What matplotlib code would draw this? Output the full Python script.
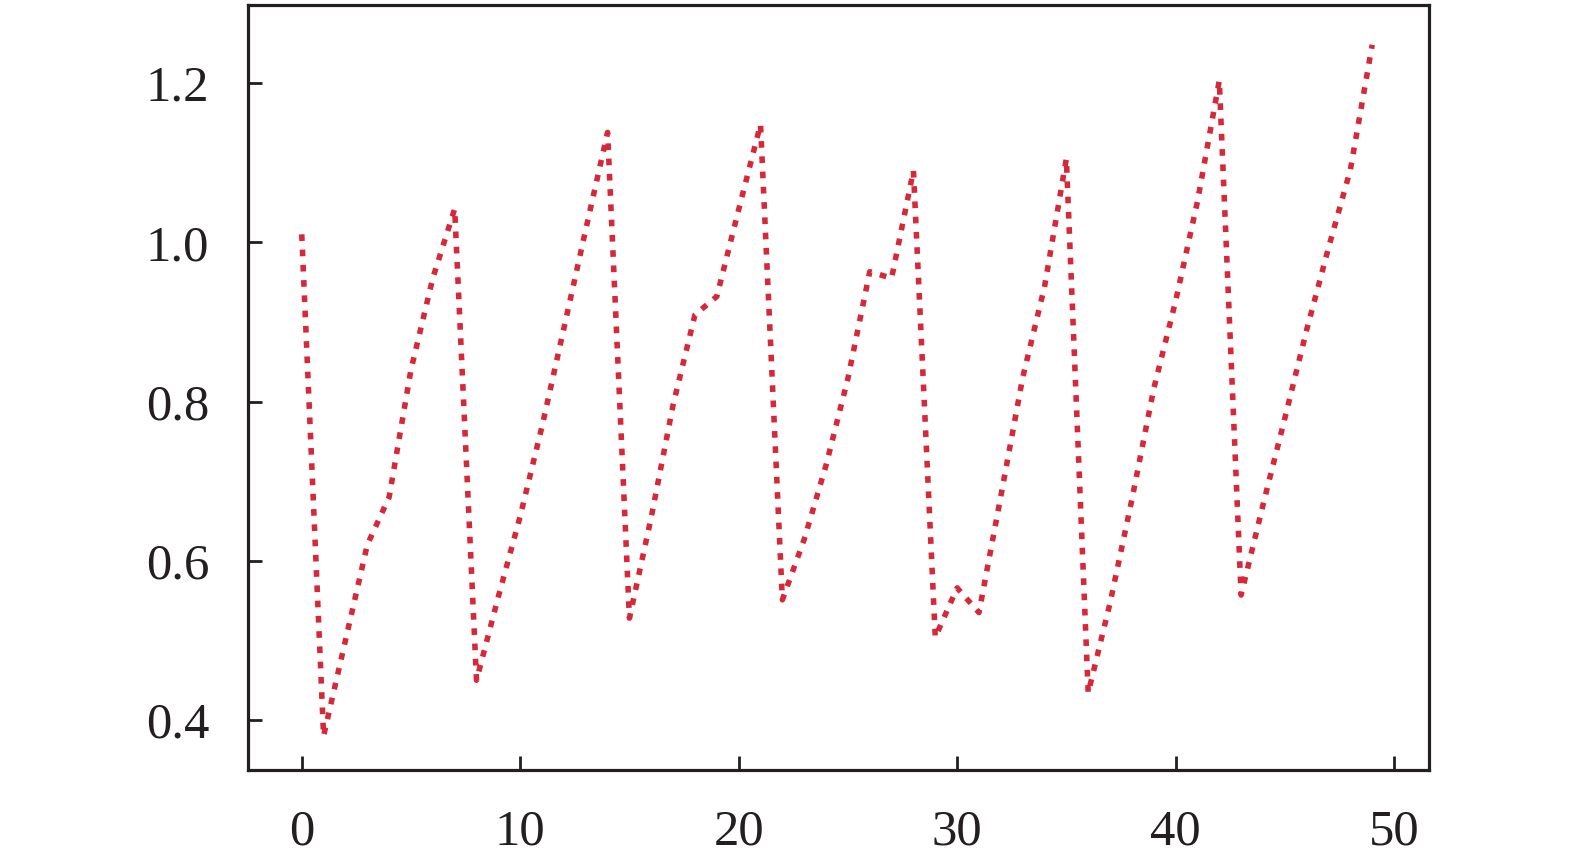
import matplotlib
matplotlib.use("Agg")
import matplotlib.pyplot as plt
import numpy as np

x_values = list(range(50))
y_values = [1.01, 0.38, 0.50, 0.62, 0.68, 0.84, 0.955, 1.042,
            0.45, 0.555, 0.656, 0.769, 0.892, 1.016, 1.138,
            0.528, 0.655, 0.796, 0.909, 0.932, 1.041, 1.148,
            0.551, 0.627, 0.72, 0.829, 0.963, 0.955, 1.09,
            0.504, 0.566, 0.535, 0.681, 0.83, 0.944, 1.105,
            0.434, 0.547, 0.677, 0.816, 0.926, 1.051, 1.203,
            0.557, 0.67, 0.779, 0.89, 0.993, 1.091, 1.248]
x_ticks = [0, 10, 20, 30, 40, 50]
y_ticks = [0.4, 0.6, 0.8, 1.0, 1.2]
y_tick_labels = ["0.4", "0.6", "0.8", "1.0", "1.2"]

ink = "#231f20"
plt.rcParams["font.family"] = ["Liberation Serif", "DejaVu Serif"]

fig = plt.figure(figsize=(15.75, 8.66), dpi=100)
ax = fig.add_axes([248/1575, 1 - 770/866, (1429-248)/1575, (770-5)/866])

ax.plot(x_values, y_values, linestyle=(0, (1.2, 1.55)), color="#d62839",
        linewidth=4.0, dash_capstyle="butt")

ax.set_xlim(-2.46, 51.6)
ax.set_ylim(0.3373, 1.298)
ax.set_xticks(x_ticks)
ax.set_yticks(y_ticks)
ax.set_yticklabels(y_tick_labels)

for s in ax.spines.values():
    s.set_linewidth(2.3)
    s.set_color(ink)
ax.tick_params(axis="both", direction="in", length=10, width=2.0, color=ink,
               labelsize=36.5, labelcolor=ink, pad=28, top=False, right=False)

fig.savefig("out.png", dpi=100)
